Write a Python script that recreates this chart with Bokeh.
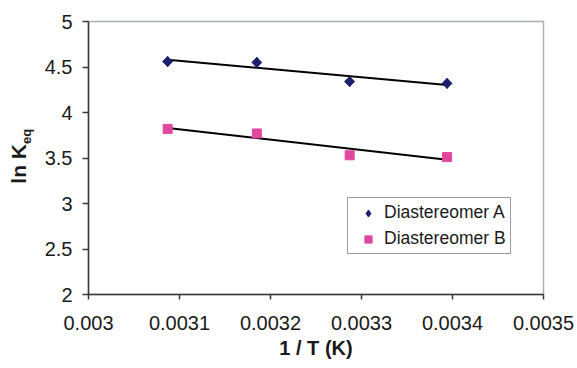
import numpy as np
from bokeh.plotting import figure
from bokeh.models import Range1d, FixedTicker, Legend, LegendItem, LinearAxis
from bokeh.embed import file_html
from bokeh.resources import INLINE

# ---- data ----
inv_T = [0.003087, 0.003185, 0.003287, 0.003394]
lnK_A = [4.56, 4.55, 4.34, 4.32]
lnK_B = [3.82, 3.77, 3.53, 3.51]
series_names = ["Diastereomer A", "Diastereomer B"]
x_ticks = [0.003, 0.0031, 0.0032, 0.0033, 0.0034, 0.0035]
x_tick_labels = ["0.003", "0.0031", "0.0032", "0.0033", "0.0034", "0.0035"]
y_ticks = [2, 2.5, 3, 3.5, 4, 4.5, 5]
y_tick_labels = ["2", "2.5", "3", "3.5", "4", "4.5", "5"]

FONT = "Liberation Sans"
TXT = "#1a1a1a"
NAVY = "#1b1f6e"
PINK = "#e2479f"
W, H = 577, 368
ML, MR, MT, MB = 88, 34, 21, 74
X0, X1, Y0, Y1 = 0.003, 0.0035, 2.0, 5.0

p = figure(width=W, height=H, output_backend="svg", toolbar_location=None,
           x_range=Range1d(X0, X1), y_range=Range1d(Y0, Y1),
           min_border_left=ML, min_border_right=MR, min_border_top=MT, min_border_bottom=MB)
p.background_fill_color = "white"
p.border_fill_color = "white"
p.outline_line_color = "#aab2b2"
p.outline_line_width = 1.5
p.xgrid.visible = False
p.ygrid.visible = False

for ax in (p.xaxis[0], p.yaxis[0]):
    ax.axis_line_color = "#3a3a3a"
    ax.axis_line_width = 1.5
    ax.major_tick_line_color = "#3a3a3a"
    ax.major_tick_line_width = 1.5
    ax.major_tick_in = 0
    ax.minor_tick_line_color = None
    ax.major_label_text_font = FONT
    ax.major_label_text_font_size = "20px"
    ax.major_label_text_color = TXT

p.xaxis.ticker = FixedTicker(ticks=x_ticks)
p.yaxis.ticker = FixedTicker(ticks=y_ticks)
p.xaxis.major_label_overrides = {tk: lb for tk, lb in zip(x_ticks, x_tick_labels)}
p.yaxis.major_label_overrides = {tk: lb for tk, lb in zip(y_ticks, y_tick_labels)}
p.xaxis.major_tick_out = 5
p.yaxis.major_tick_out = 6
p.xaxis.major_label_standoff = 16
p.yaxis.major_label_standoff = 10

p.xaxis.axis_label = "1 / T (K)"
p.xaxis.axis_label_text_font = FONT
p.xaxis.axis_label_text_font_style = "bold"
p.xaxis.axis_label_text_font_size = "20px"
p.xaxis.axis_label_text_color = TXT
p.xaxis.axis_label_standoff = 4

# ---- y-axis title "ln K" with subscript "eq": two label-only axes stacked left ----
NB = "\u00a0"
def title_axis(text, size, standoff):
    a = LinearAxis(ticker=FixedTicker(ticks=[]), axis_label=text,
                   axis_line_color=None, major_tick_line_color=None,
                   minor_tick_line_color=None, major_tick_out=0, major_tick_in=0,
                   minor_tick_out=0, minor_tick_in=0, major_label_standoff=0,
                   axis_label_standoff=standoff)
    a.axis_label_text_font = FONT
    a.axis_label_text_font_style = "bold"
    a.axis_label_text_font_size = size
    a.axis_label_text_color = TXT
    return a

p.add_layout(title_axis(NB * 12 + "eq", "13px", 8), "left")
p.add_layout(title_axis("ln K" + NB * 2, "21px", -14), "left")

# ---- trend lines (least squares fit of the data) ----
x_arr = np.array(inv_T)
line_x = np.array([x_arr.min(), x_arr.max()])
for ys in (lnK_A, lnK_B):
    m, b = np.polyfit(x_arr, np.array(ys), 1)
    p.line(line_x, m * line_x + b, line_color="black", line_width=2)

# series A: diamond (legend swatch) under a 45-degree square for an even diamond shape
rA_key = p.scatter(inv_T, lnK_A, marker="diamond", size=10,
                   fill_color=NAVY, line_color=NAVY)
rA = p.scatter(inv_T, lnK_A, marker="square", angle=np.pi / 4, size=7,
               fill_color=NAVY, line_color=NAVY)
rB = p.scatter(inv_T, lnK_B, marker="square", size=9,
               fill_color=PINK, line_color=PINK)

legend = Legend(items=[LegendItem(label=series_names[0], renderers=[rA_key]),
                       LegendItem(label=series_names[1], renderers=[rB])],
                location=(259, 40))
legend.label_text_font = FONT
legend.label_text_font_size = "17.5px"
legend.label_text_color = TXT
legend.border_line_color = "#3a3a3a"
legend.border_line_width = 1
legend.background_fill_color = "white"
legend.background_fill_alpha = 1
legend.padding = 4
legend.spacing = 5
legend.margin = 0
legend.glyph_width = 32
legend.glyph_height = 18
legend.label_height = 18
legend.label_standoff = 0
p.add_layout(legend, "center")

open("out.html", "w").write(file_html(p, INLINE))
